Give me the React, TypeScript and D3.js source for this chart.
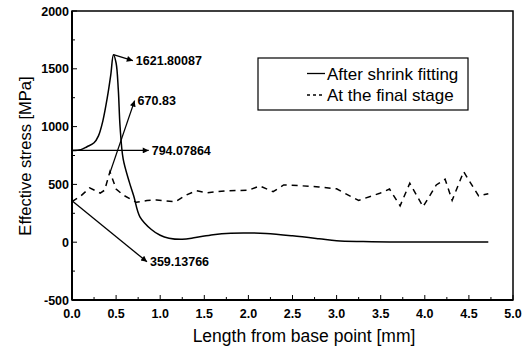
import React from "react";
import * as d3 from "d3";

const shrinkX = [0, 0.1, 0.17, 0.25, 0.3, 0.35, 0.4, 0.44, 0.47, 0.5, 0.525, 0.545, 0.58, 0.65, 0.7, 0.77, 0.9, 1.0, 1.1, 1.25, 1.4, 1.6, 1.8, 2.0, 2.2, 2.5, 2.8, 3.0, 3.3, 3.6, 4.0, 4.5, 4.72];
const shrinkY = [794, 800, 826, 860, 920, 1050, 1250, 1450, 1622, 1550, 1320, 1000, 720, 520, 400, 220, 110, 60, 35, 25, 40, 65, 78, 80, 75, 55, 30, 12, 5, 2, 2, 2, 2];

const finalX = [0, 0.1, 0.2, 0.32, 0.37, 0.43, 0.5, 0.58, 0.73, 0.85, 0.96, 1.17, 1.3, 1.41, 1.53, 1.75, 2.0, 2.13, 2.28, 2.4, 2.6, 2.8, 3.0, 3.1, 3.25, 3.49, 3.6, 3.72, 3.83, 3.98, 4.13, 4.23, 4.31, 4.44, 4.61, 4.72];
const finalY = [350, 400, 470, 425, 450, 610, 460, 408, 345, 360, 365, 350, 410, 445, 428, 445, 450, 486, 437, 495, 488, 478, 462, 420, 362, 423, 460, 315, 510, 307, 495, 545, 362, 610, 400, 420];

const xTicks = [0, 0.5, 1, 1.5, 2, 2.5, 3, 3.5, 4, 4.5, 5];
const yTicks = [-500, 0, 500, 1000, 1500, 2000];

const legendLabels = ["After shrink fitting", "At the final stage"];
const xTitle = "Length from base point [mm]";
const yTitle = "Effective stress [MPa]";

// annotations: [fromX, fromY, toX(data), toY(data), label]
const annotations: [number, number, number, number, string][] = [
  [0.47, 1622, 0.69, 1570, "1621.80087"],
  [0.43, 600, 0.71, 1225, "670.83"],
  [0.0, 794.07864, 0.87, 794.07864, "794.07864"],
  [0.0, 359.13766, 0.85, -170, "359.13766"],
];

export default function App() {
  const W = 531, H = 352;
  const L = 72, R = 513, T = 11, B = 300;
  const x = d3.scaleLinear().domain([0, 5]).range([L, R]);
  const y = d3.scaleLinear().domain([-500, 2000]).range([B, T]);

  const solidLine = d3.line<number>().x((_, i) => x(shrinkX[i])).y((d) => y(d)).curve(d3.curveCatmullRom.alpha(0.5));
  const dashLine = d3.line<number>().x((_, i) => x(finalX[i])).y((d) => y(d)).curve(d3.curveLinear);

  const xMinor = d3.range(0, 5.001, 0.25);
  const yMinor = d3.range(-500, 2001, 250);
  const font = "'Liberation Sans', Arial, sans-serif";

  return (
    <svg width={W} height={H} style={{ position: "absolute", left: 0, top: 0, background: "#fff" }} fontFamily={font}>
      <defs>
        <marker id="ah" viewBox="0 0 10 10" refX="10" refY="5" markerWidth="8" markerHeight="6" markerUnits="userSpaceOnUse" orient="auto">
          <path d="M0,0 L10,5 L0,10 z" fill="#000" />
        </marker>
      </defs>
      <rect x={0} y={0} width={W} height={H} fill="#fff" />
      {/* frame */}
      <rect x={L} y={T} width={R - L} height={B - T} fill="none" stroke="#000" strokeWidth={1.5} />
      <line x1={L} y1={T} x2={L} y2={B} stroke="#000" strokeWidth={2} />
      <line x1={L} y1={B} x2={R} y2={B} stroke="#000" strokeWidth={2} />
      {/* x ticks */}
      {xMinor.map((v, i) => {
        const major = i % 2 === 0;
        return <line key={"xm" + i} x1={x(v)} x2={x(v)} y1={B} y2={B - (major ? 5 : 3)} stroke="#000" strokeWidth={1} />;
      })}
      {yMinor.map((v, i) => {
        const major = i % 2 === 0;
        return <line key={"ym" + i} x1={L} x2={L + (major ? 5 : 3)} y1={y(v)} y2={y(v)} stroke="#000" strokeWidth={1} />;
      })}
      {xTicks.map((v) => (
        <text key={"xt" + v} x={x(v)} y={B + 17.5} textAnchor="middle" fontSize={12.5} fontWeight="bold">{v.toFixed(1)}</text>
      ))}
      {yTicks.map((v) => (
        <text key={"yt" + v} x={L - 3} y={y(v) + 4.5} textAnchor="end" fontSize={12.5} fontWeight="bold">{v}</text>
      ))}
      <text x={(191 + 417) / 2} y={341.5} textAnchor="middle" fontSize={17.5}>{xTitle}</text>
      <text transform={`translate(31,156) rotate(-90)`} textAnchor="middle" fontSize={16.5}>{yTitle}</text>
      {/* curves */}
      <path d={solidLine(shrinkY) || ""} fill="none" stroke="#000" strokeWidth={1.5} />
      <path d={dashLine(finalY) || ""} fill="none" stroke="#000" strokeWidth={1.5} strokeDasharray="6,5" />
      {/* annotations */}
      {annotations.map(([fx, fy, tx, ty, lab], i) => (
        <g key={"an" + i}>
          <line x1={x(fx)} y1={y(fy)} x2={x(tx)} y2={y(ty)} stroke="#000" strokeWidth={1.3} markerEnd="url(#ah)" />
          <text x={x(tx) + 3} y={y(ty) + 4.5} fontSize={12.5} fontWeight="bold">{lab}</text>
        </g>
      ))}
      {/* legend */}
      <rect x={258} y={58} width={210} height={52} fill="#fff" stroke="#000" strokeWidth={1.2} />
      <line x1={307} x2={325} y1={73.5} y2={73.5} stroke="#000" strokeWidth={1.3} />
      <line x1={307} x2={325} y1={95} y2={95} stroke="#000" strokeWidth={1.3} strokeDasharray="3,3" />
      <text x={327} y={79.5} fontSize={17}>{legendLabels[0]}</text>
      <text x={327} y={101} fontSize={17}>{legendLabels[1]}</text>
    </svg>
  );
}
